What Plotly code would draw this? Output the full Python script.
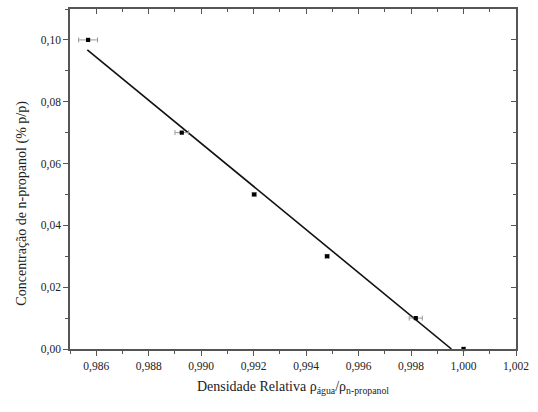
import plotly.graph_objects as go

# Data
dens = [0.98569, 0.98926, 0.99202, 0.99480, 0.99818, 1.00000]
conc = [0.10, 0.07, 0.05, 0.03, 0.01, 0.00]
dens_err = [0.00036, 0.00026, 0.00008, 0.00008, 0.00025, 0.00005]

# Linear fit line (endpoints)
fit_x = [0.98566, 0.99954]
fit_y = [0.0968, 0.0]

x_ticks = [0.986, 0.988, 0.990, 0.992, 0.994, 0.996, 0.998, 1.000, 1.002]
y_ticks = [0.00, 0.02, 0.04, 0.06, 0.08, 0.10]

xr = [0.985, 1.002]
yr = [0.0, 0.11]

font = "Liberation Serif, Times New Roman, serif"
txt = "#222222"

fig = go.Figure()
fig.add_trace(go.Scatter(
    x=fit_x, y=fit_y, mode="lines",
    line=dict(color="#111111", width=1.6),
    hoverinfo="skip", showlegend=False))
fig.add_trace(go.Scatter(
    x=dens, y=conc, mode="markers",
    marker=dict(symbol="square", size=4.2, color="black"),
    error_x=dict(type="data", array=dens_err, visible=True,
                 color="#9a9a9a", thickness=1, width=2.5),
    cliponaxis=False, showlegend=False))
# invisible traces for mirrored axes
fig.add_trace(go.Scatter(x=xr, y=yr, mode="markers", marker=dict(opacity=0),
                         xaxis="x2", yaxis="y2", hoverinfo="skip", showlegend=False))

axis_common = dict(showgrid=False, zeroline=False, showline=True,
                   linecolor="#555555", linewidth=1.5,
                   tickcolor="#555555", ticklen=5, tickwidth=1.3)

fig.update_layout(
    width=538, height=412,
    margin=dict(l=70, r=17, t=9, b=63),
    paper_bgcolor="white", plot_bgcolor="white",
    separators=", ",
    font=dict(family=font, size=11.5, color=txt),
    xaxis=dict(range=xr, tickvals=x_ticks, tickformat=".3f", ticks="outside",
               minor=dict(dtick=0.001, ticks="outside", ticklen=3,
                          tickcolor="#555555", tickwidth=1),
               title=dict(text="Densidade Relativa ρ<sub>água</sub>/ρ<sub>n-propanol</sub>",
                          font=dict(size=14, family=font, color=txt), standoff=10),
               **axis_common),
    yaxis=dict(range=yr, tickvals=y_ticks, tickformat=".2f", ticks="outside",
               minor=dict(dtick=0.01, ticks="outside", ticklen=3,
                          tickcolor="#555555", tickwidth=1),
               **axis_common),
    xaxis2=dict(range=xr, overlaying="x", side="top", tickvals=x_ticks,
                showticklabels=False, ticks="inside",
                minor=dict(dtick=0.001, ticks="inside", ticklen=3,
                           tickcolor="#555555", tickwidth=1),
                **axis_common),
    yaxis2=dict(range=yr, overlaying="y", side="right", tickvals=y_ticks,
                showticklabels=False, ticks="inside",
                minor=dict(dtick=0.01, ticks="inside", ticklen=3,
                           tickcolor="#555555", tickwidth=1),
                **axis_common),
    annotations=[dict(
        text="Concentração de n-propanol (% p/p)",
        xref="paper", yref="paper", x=-0.108, y=0.43,
        xanchor="center", yanchor="middle", textangle=-90, showarrow=False,
        font=dict(size=14, family=font, color=txt))],
)

fig.write_html("out.html")
